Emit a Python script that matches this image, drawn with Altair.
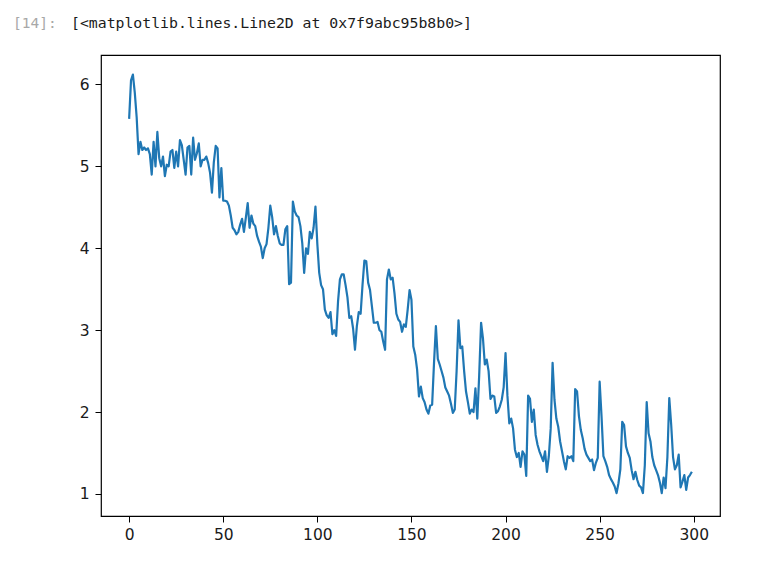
import altair as alt
import pandas as pd

# y values, index 0..299
values = [
    5.58, 6.05, 6.12, 5.90, 5.60, 5.15, 5.30, 5.20, 5.23, 5.20,
    5.22, 5.15, 4.90, 5.30, 5.00, 5.42, 5.10, 5.00, 5.12, 4.88,
    5.02, 5.00, 5.18, 5.20, 4.98, 5.18, 5.00, 5.32, 5.26, 5.08,
    4.90, 5.23, 5.25, 4.90, 5.35, 5.08, 5.16, 5.28, 5.00, 5.08,
    5.08, 5.12, 5.04, 4.92, 4.68, 5.05, 5.25, 5.22, 4.62, 4.98,
    4.58, 4.58, 4.57, 4.52, 4.40, 4.25, 4.22, 4.17, 4.20, 4.29,
    4.36, 4.20, 4.37, 4.55, 4.25, 4.40, 4.30, 4.27, 4.15, 4.08,
    4.02, 3.88, 4.00, 4.05, 4.25, 4.52, 4.38, 4.17, 4.27, 4.15,
    4.06, 4.04, 4.04, 4.23, 4.27, 3.56, 3.58, 4.57, 4.45, 4.40,
    4.38, 4.27, 4.06, 3.70, 4.00, 3.93, 4.20, 4.12, 4.25, 4.51,
    4.05, 3.70, 3.55, 3.50, 3.25, 3.18, 3.15, 3.22, 2.95, 3.00,
    2.93, 3.35, 3.62, 3.68, 3.68, 3.55, 3.40, 3.15, 3.17, 3.02,
    2.76, 3.05, 3.22, 3.20, 3.55, 3.85, 3.84, 3.58, 3.49, 3.29,
    3.09, 3.09, 3.10, 3.00, 2.98, 2.86, 2.76, 3.62, 3.74, 3.62,
    3.64, 3.45, 3.20, 3.13, 3.10, 2.98, 3.07, 3.04, 3.25, 3.49,
    3.37, 2.80, 2.70, 2.52, 2.19, 2.31, 2.17, 2.12, 2.03, 1.98,
    2.08, 2.09, 2.60, 3.05, 2.65, 2.58, 2.50, 2.42, 2.30, 2.25,
    2.20, 2.10, 1.99, 2.03, 2.50, 3.12, 2.78, 2.80, 2.50, 2.25,
    2.12, 1.98, 2.03, 2.00, 2.29, 1.92, 2.45, 3.09, 2.90, 2.58,
    2.64, 2.50, 2.16, 2.20, 2.19, 1.99, 2.01, 2.07, 2.15, 2.30,
    2.72, 2.20, 1.86, 1.92, 1.80, 1.54, 1.45, 1.50, 1.33, 1.52,
    1.48, 1.22, 2.20, 2.16, 1.88, 2.03, 1.72, 1.60, 1.52, 1.46,
    1.40, 1.52, 1.27, 1.46, 1.80, 2.60, 2.15, 1.92, 1.82, 1.64,
    1.52, 1.40, 1.30, 1.46, 1.44, 1.46, 1.40, 2.28, 2.25, 1.95,
    1.78, 1.68, 1.55, 1.48, 1.44, 1.40, 1.42, 1.29, 1.38, 1.44,
    2.37, 1.95, 1.46, 1.40, 1.33, 1.23, 1.18, 1.14, 1.09, 1.01,
    1.13, 1.30, 1.88, 1.84, 1.58, 1.50, 1.44, 1.29, 1.18, 1.27,
    1.17, 1.10, 1.08, 1.01, 1.35, 2.12, 1.74, 1.64, 1.45, 1.35,
    1.29, 1.23, 1.14, 1.01, 1.20, 1.07, 1.45, 2.17, 1.85, 1.45,
    1.30, 1.35, 1.48, 1.08, 1.15, 1.23, 1.05, 1.20, 1.23, 1.27,
]
index = list(range(len(values)))

x_ticks = [0, 50, 100, 150, 200, 250, 300]
y_ticks = [1, 2, 3, 4, 5, 6]

prompt_text = ["[14]:"]
output_text = ["[<matplotlib.lines.Line2D at 0x7f9abc95b8b0>]"]

df = pd.DataFrame({"i": index, "v": values})

W, H = 619, 461

line = alt.Chart(df).mark_line(color="#1f77b4", strokeWidth=2.2, strokeJoin="round").encode(
    x=alt.X("i:Q", scale=alt.Scale(domain=[-14.95, 313.95], nice=False, zero=False),
            axis=alt.Axis(values=x_ticks, title=None, grid=False, domain=False,
                          tickColor="#000", tickSize=6, tickWidth=1,
                          labelFont="DejaVu Sans", labelFontSize=15.5,
                          labelColor="#1a1a1a", labelPadding=5, labelFlush=False)),
    y=alt.Y("v:Q", scale=alt.Scale(domain=[0.73, 6.36], nice=False, zero=False),
            axis=alt.Axis(values=y_ticks, title=None, grid=False, domain=False,
                          tickColor="#000", tickSize=6, tickWidth=1,
                          labelFont="DejaVu Sans", labelFontSize=15.5,
                          labelColor="#1a1a1a", labelPadding=6, labelFlush=False)),
)

prompt = alt.Chart(pd.DataFrame({"t": prompt_text})).mark_text(
    align="left", baseline="alphabetic", font="DejaVu Sans Mono", fontSize=14.5,
    color="#a8a8a8"
).encode(x=alt.value(-88), y=alt.value(-27), text="t:N")

output = alt.Chart(pd.DataFrame({"t": output_text})).mark_text(
    align="left", baseline="alphabetic", font="DejaVu Sans Mono", fontSize=14.8,
    color="#1b1b1b"
).encode(x=alt.value(-30), y=alt.value(-27), text="t:N")

chart = alt.layer(line, prompt, output).properties(
    width=W, height=H,
    autosize=alt.AutoSizeParams(type="none"),
    padding={"left": 101, "top": 55, "right": 64, "bottom": 46},
    background="white",
).configure_view(stroke="#000", strokeWidth=1.2)

chart.save("out.html", embed_options={"renderer": "svg", "actions": False})
